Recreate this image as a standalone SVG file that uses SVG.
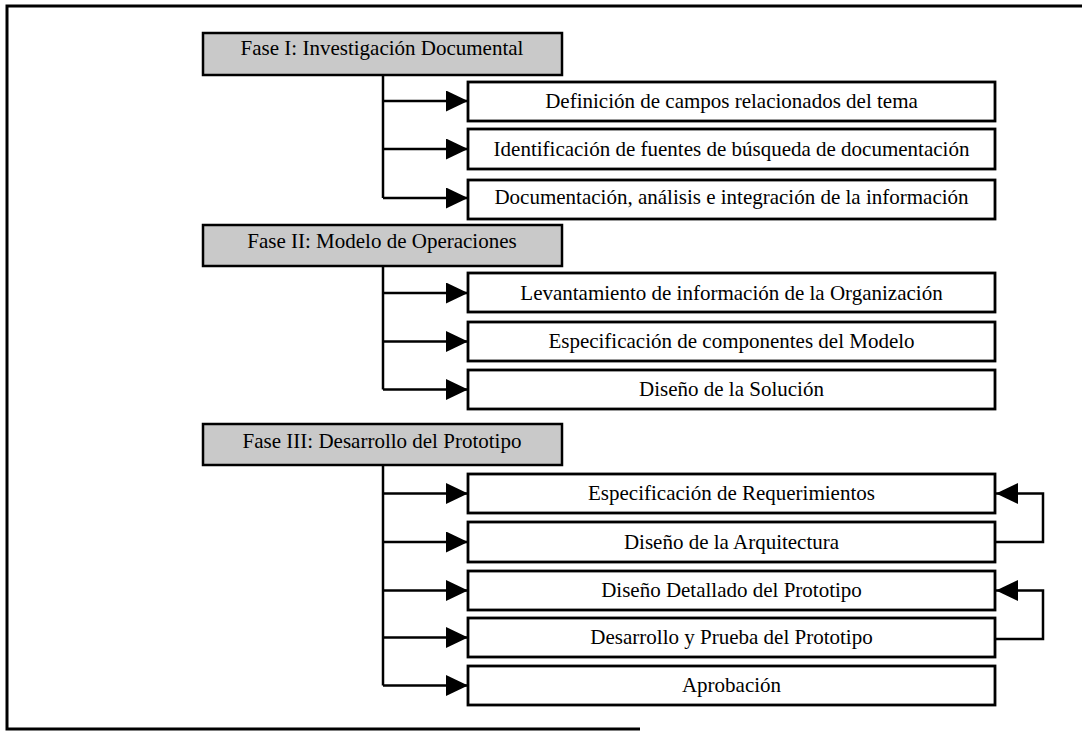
<svg xmlns="http://www.w3.org/2000/svg" width="1082" height="731" viewBox="0 0 1082 731">
<defs>
<marker id="ah" markerUnits="userSpaceOnUse" markerWidth="23" markerHeight="22" refX="22" refY="10.5" orient="auto">
<path d="M0,0 L22,10.5 L0,21 Z" fill="#000"/>
</marker>
<style>
.frame{fill:none;stroke:#000;stroke-width:3}
.hdr{fill:#c9c9c9;stroke:#000;stroke-width:2.5}
.box{fill:#fff;stroke:#000;stroke-width:2.8}
.t{font-family:"Liberation Serif","Times New Roman",serif;font-size:21px;fill:#000;text-anchor:middle}
.c{fill:none;stroke:#000;stroke-width:2.5}
.a{fill:none;stroke:#000;stroke-width:2.5;marker-end:url(#ah)}
</style>
</defs>
<rect width="1082" height="731" fill="#fff"/>
<path class="frame" d="M1082,6 H7 V729 H640"/>

<g id="connectors">
<path class="c" d="M383,75 V198"/>
<path class="a" d="M383,101 H468"/>
<path class="a" d="M383,149 H468"/>
<path class="a" d="M383,198 H468"/>
<path class="c" d="M383,266 V389.5"/>
<path class="a" d="M383,293 H468"/>
<path class="a" d="M383,341.5 H468"/>
<path class="a" d="M383,389.5 H468"/>
<path class="c" d="M383,465 V685.5"/>
<path class="a" d="M383,493.5 H468"/>
<path class="a" d="M383,542 H468"/>
<path class="a" d="M383,590.5 H468"/>
<path class="a" d="M383,637.5 H468"/>
<path class="a" d="M383,685.5 H468"/>
<path class="a" d="M995,542 H1043 V493.5 H996"/>
<path class="a" d="M995,639 H1043 V590.5 H996"/>
</g>

<g id="fase1"><rect class="hdr" x="203" y="33" width="359" height="42"/><text class="t" x="382" y="55">Fase I: Investigación Documental</text></g>
<g id="n1"><rect class="box" x="468" y="82" width="527" height="39"/><text class="t" x="731.5" y="108">Definición de campos relacionados del tema</text></g>
<g id="n2"><rect class="box" x="468" y="129" width="527" height="40"/><text class="t" x="731.5" y="156">Identificación de fuentes de búsqueda de documentación</text></g>
<g id="n3"><rect class="box" x="468" y="180" width="527" height="39"/><text class="t" x="731.5" y="204">Documentación, análisis e integración de la información</text></g>

<g id="fase2"><rect class="hdr" x="203" y="225" width="359" height="41"/><text class="t" x="382" y="248">Fase II: Modelo de Operaciones</text></g>
<g id="n4"><rect class="box" x="468" y="273" width="527" height="39"/><text class="t" x="731.5" y="299.5">Levantamiento de información de la Organización</text></g>
<g id="n5"><rect class="box" x="468" y="322" width="527" height="39"/><text class="t" x="731.5" y="347.5">Especificación de componentes del Modelo</text></g>
<g id="n6"><rect class="box" x="468" y="370" width="527" height="39"/><text class="t" x="731.5" y="395.5">Diseño de la Solución</text></g>

<g id="fase3"><rect class="hdr" x="203" y="424" width="359" height="41"/><text class="t" x="382" y="448">Fase III: Desarrollo del Prototipo</text></g>
<g id="n7"><rect class="box" x="468" y="474" width="527" height="39"/><text class="t" x="731.5" y="500">Especificación de Requerimientos</text></g>
<g id="n8"><rect class="box" x="468" y="522" width="527" height="40"/><text class="t" x="731.5" y="548.5">Diseño de la Arquitectura</text></g>
<g id="n9"><rect class="box" x="468" y="571" width="527" height="39"/><text class="t" x="731.5" y="597">Diseño Detallado del Prototipo</text></g>
<g id="n10"><rect class="box" x="468" y="618" width="527" height="39"/><text class="t" x="731.5" y="644">Desarrollo y Prueba del Prototipo</text></g>
<g id="n11"><rect class="box" x="468" y="666" width="527" height="39"/><text class="t" x="731.5" y="692">Aprobación</text></g>
</svg>
